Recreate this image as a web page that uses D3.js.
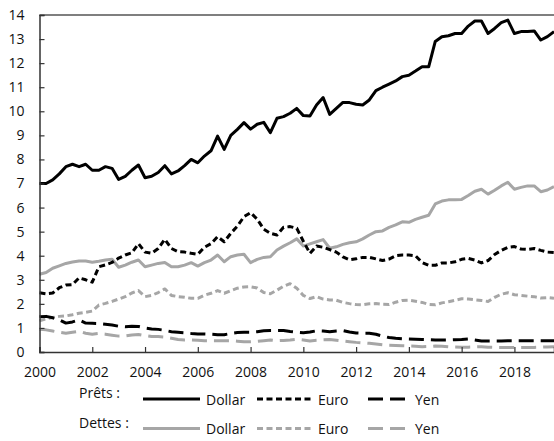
<!DOCTYPE html>
<html>
<head>
<meta charset="utf-8">
<script src="https://cdn.jsdelivr.net/npm/d3@7"></script>
<style>
	body { margin: 0; background: #fff; }
	text { font-family: "Open Sans", "Noto Sans", sans-serif; fill: #111; }
</style>
</head>
<body>
<svg id="chart" width="554" height="441"></svg>
<script>

// quarterly observations, 2000Q1 to 2019Q3
var firstYear = 2000;
var nQuarters = 79;

// Prêts (loans), dollar / euro / yen
var loansDollar = [7.0, 7.0, 7.15, 7.4, 7.7, 7.8, 7.7, 7.8, 7.55, 7.55, 7.7, 7.63, 7.17, 7.3, 7.55, 7.77,
	7.24, 7.3, 7.46, 7.74, 7.4, 7.52, 7.74, 8.0, 7.86, 8.14, 8.36, 8.97, 8.42, 9.0, 9.25, 9.53,
	9.26, 9.46, 9.54, 9.11, 9.71, 9.78, 9.92, 10.12, 9.82, 9.8, 10.26, 10.57, 9.87, 10.12, 10.37, 10.36,
	10.29, 10.26, 10.47, 10.86, 11.0, 11.13, 11.26, 11.44, 11.5, 11.67, 11.85, 11.85, 12.9, 13.1, 13.14, 13.23,
	13.23, 13.54, 13.75, 13.75, 13.23, 13.44, 13.68, 13.79, 13.23, 13.31, 13.31, 13.34, 12.96, 13.1, 13.31];
var loansEuro = [2.46, 2.42, 2.45, 2.67, 2.78, 2.8, 3.08, 3.0, 2.9, 3.54, 3.62, 3.72, 3.9, 4.03, 4.12, 4.5,
	4.15, 4.1, 4.3, 4.68, 4.3, 4.17, 4.15, 4.1, 4.06, 4.35, 4.5, 4.79, 4.58, 4.93, 5.23, 5.62,
	5.79, 5.52, 5.1, 4.93, 4.86, 5.18, 5.21, 5.14, 4.6, 4.1, 4.4, 4.35, 4.25, 4.15, 3.95, 3.83,
	3.87, 3.93, 3.93, 3.87, 3.8, 3.86, 4.0, 4.03, 4.03, 4.0, 3.72, 3.6, 3.6, 3.7, 3.7, 3.75,
	3.85, 3.89, 3.82, 3.7, 3.8, 4.05, 4.22, 4.35, 4.38, 4.28, 4.26, 4.3, 4.22, 4.15, 4.13];
var loansYen = [1.46, 1.48, 1.42, 1.34, 1.2, 1.25, 1.33, 1.2, 1.19, 1.18, 1.15, 1.12, 1.07, 1.05, 1.07, 1.06,
	1.0, 0.96, 0.94, 0.9, 0.84, 0.82, 0.8, 0.77, 0.75, 0.75, 0.74, 0.72, 0.72, 0.77, 0.81, 0.82,
	0.82, 0.84, 0.88, 0.89, 0.89, 0.89, 0.85, 0.82, 0.8, 0.83, 0.88, 0.87, 0.84, 0.87, 0.89, 0.83,
	0.79, 0.78, 0.78, 0.74, 0.66, 0.6, 0.57, 0.55, 0.54, 0.53, 0.52, 0.51, 0.5, 0.5, 0.5, 0.51,
	0.52, 0.54, 0.5, 0.46, 0.46, 0.46, 0.46, 0.47, 0.47, 0.47, 0.47, 0.47, 0.47, 0.47, 0.47];

// Dettes (debt securities), dollar / euro / yen
var debtDollar = [3.23, 3.3, 3.48, 3.58, 3.68, 3.74, 3.78, 3.78, 3.73, 3.77, 3.82, 3.85, 3.52, 3.61, 3.73, 3.82,
	3.54, 3.61, 3.68, 3.72, 3.54, 3.54, 3.61, 3.71, 3.57, 3.71, 3.82, 4.03, 3.75, 3.96, 4.03, 4.06,
	3.71, 3.85, 3.93, 3.96, 4.24, 4.4, 4.54, 4.7, 4.4, 4.49, 4.58, 4.67, 4.31, 4.37, 4.47, 4.54,
	4.58, 4.7, 4.86, 5.0, 5.03, 5.18, 5.28, 5.41, 5.39, 5.51, 5.6, 5.68, 6.15, 6.27, 6.32, 6.33,
	6.34, 6.5, 6.68, 6.76, 6.56, 6.72, 6.9, 7.05, 6.76, 6.84, 6.9, 6.9, 6.66, 6.73, 6.87];
var debtEuro = [1.3, 1.38, 1.43, 1.48, 1.5, 1.55, 1.61, 1.65, 1.7, 1.95, 2.02, 2.1, 2.2, 2.3, 2.45, 2.55,
	2.3, 2.35, 2.47, 2.62, 2.35, 2.3, 2.27, 2.23, 2.23, 2.36, 2.44, 2.55, 2.44, 2.55, 2.65, 2.7,
	2.71, 2.66, 2.47, 2.42, 2.57, 2.73, 2.84, 2.65, 2.35, 2.22, 2.3, 2.2, 2.16, 2.15, 2.06, 2.01,
	1.97, 1.96, 2.0, 2.01, 1.98, 1.97, 2.07, 2.14, 2.15, 2.11, 2.06, 1.98, 1.96, 2.04, 2.09, 2.15,
	2.21, 2.2, 2.17, 2.14, 2.1, 2.27, 2.4, 2.46, 2.38, 2.35, 2.32, 2.3, 2.24, 2.26, 2.23];
var debtYen = [0.94, 0.92, 0.87, 0.82, 0.78, 0.82, 0.86, 0.78, 0.74, 0.77, 0.74, 0.7, 0.66, 0.67, 0.71, 0.73,
	0.68, 0.64, 0.64, 0.62, 0.57, 0.52, 0.5, 0.5, 0.49, 0.47, 0.47, 0.47, 0.47, 0.47, 0.45, 0.43,
	0.43, 0.44, 0.47, 0.5, 0.47, 0.48, 0.5, 0.53, 0.5, 0.46, 0.49, 0.51, 0.52, 0.49, 0.46, 0.43,
	0.4, 0.38, 0.36, 0.33, 0.3, 0.28, 0.27, 0.26, 0.25, 0.24, 0.22, 0.23, 0.25, 0.24, 0.22, 0.21,
	0.2, 0.2, 0.21, 0.22, 0.2, 0.19, 0.19, 0.19, 0.19, 0.19, 0.19, 0.19, 0.2, 0.21, 0.22];

// axis ticks
var xTicks = [2000, 2002, 2004, 2006, 2008, 2010, 2012, 2014, 2016, 2018];
var yTicks = [0, 1, 2, 3, 4, 5, 6, 7, 8, 9, 10, 11, 12, 13, 14];

// legend labels
var groupLabels = ["Prêts :", "Dettes :"];
var currencyLabels = ["Dollar", "Euro", "Yen"];

var black = "#000", grey = "#a6a6a6";
var dashes = ["none", "6,3.5", "15,7"];

var series = [
	{ values: loansDollar, color: black, dash: dashes[0] },
	{ values: loansEuro, color: black, dash: dashes[1] },
	{ values: loansYen, color: black, dash: dashes[2] },
	{ values: debtDollar, color: grey, dash: dashes[0] },
	{ values: debtEuro, color: grey, dash: dashes[1] },
	{ values: debtYen, color: grey, dash: dashes[2] }
];
var dates = d3.range(nQuarters).map(function (i) { return firstYear + i / 4; });

var svg = d3.select("#chart");
var x = d3.scaleLinear().domain([2000, 2019.5]).range([39.5, 554]);
var y = d3.scaleLinear().domain([0, 14]).range([352, 15]);

// lines (debts behind loans)
var line = d3.line()
	.x(function (d, i) { return x(dates[i]); })
	.y(function (d) { return y(d); });
svg.append("g").selectAll("path")
	.data(series.slice(3).concat(series.slice(0, 3)))
	.enter().append("path")
	.attr("d", function (s) { return line(s.values); })
	.attr("fill", "none")
	.attr("stroke", function (s) { return s.color; })
	.attr("stroke-width", 3)
	.attr("stroke-dasharray", function (s) { return s.dash; })
	.attr("stroke-linejoin", "round");

// top frame line
svg.append("line")
	.attr("x1", x(2000)).attr("x2", 554)
	.attr("y1", y(14)).attr("y2", y(14))
	.attr("stroke", "#555").attr("stroke-width", 1.5);

// y axis, ticks pointing inward
var yAxis = svg.append("g")
	.attr("transform", "translate(" + x(2000) + ",0)")
	.call(d3.axisRight(y).tickValues(yTicks).tickSize(5).tickFormat(d3.format("d")));
yAxis.select(".domain").attr("stroke", "#333").attr("stroke-width", 1.5);
yAxis.selectAll(".tick line").attr("stroke", "#333").attr("stroke-width", 1.2);
yAxis.selectAll(".tick text")
	.attr("x", -15).attr("text-anchor", "end")
	.style("font-size", "14px").style("font-family", "'Open Sans', sans-serif").attr("fill", "#111");

// x axis, ticks pointing up
var xAxis = svg.append("g")
	.attr("transform", "translate(0," + y(0) + ")")
	.call(d3.axisTop(x).tickValues(xTicks).tickSize(5).tickFormat(d3.format("d")));
xAxis.select(".domain").attr("stroke", "#333").attr("stroke-width", 1.5);
xAxis.selectAll(".tick line").attr("stroke", "#333").attr("stroke-width", 1.2);
xAxis.selectAll(".tick text")
	.attr("y", 25).attr("dy", 0)
	.style("font-size", "14px").style("font-family", "'Open Sans', sans-serif").attr("fill", "#111");

// legend
var legendRows = [399, 428.5];
var legendSwatches = [[143, 200], [257, 312], [368, 408]];
var legendText = [206, 318, 415];
groupLabels.forEach(function (label, r) {
	var ly = legendRows[r];
	svg.append("text")
		.attr("x", 79).attr("y", ly - 1)
		.style("font-size", "14px")
		.text(label);
	currencyLabels.forEach(function (cur, c) {
		var s = series[r * 3 + c];
		svg.append("line")
			.attr("x1", legendSwatches[c][0]).attr("x2", legendSwatches[c][1])
			.attr("y1", ly).attr("y2", ly)
			.attr("stroke", s.color).attr("stroke-width", 3)
			.attr("stroke-dasharray", s.dash);
		svg.append("text")
			.attr("x", legendText[c]).attr("y", ly + 5.5)
			.style("font-size", "14px")
			.text(cur);
	});
});
</script>
</body>
</html>
